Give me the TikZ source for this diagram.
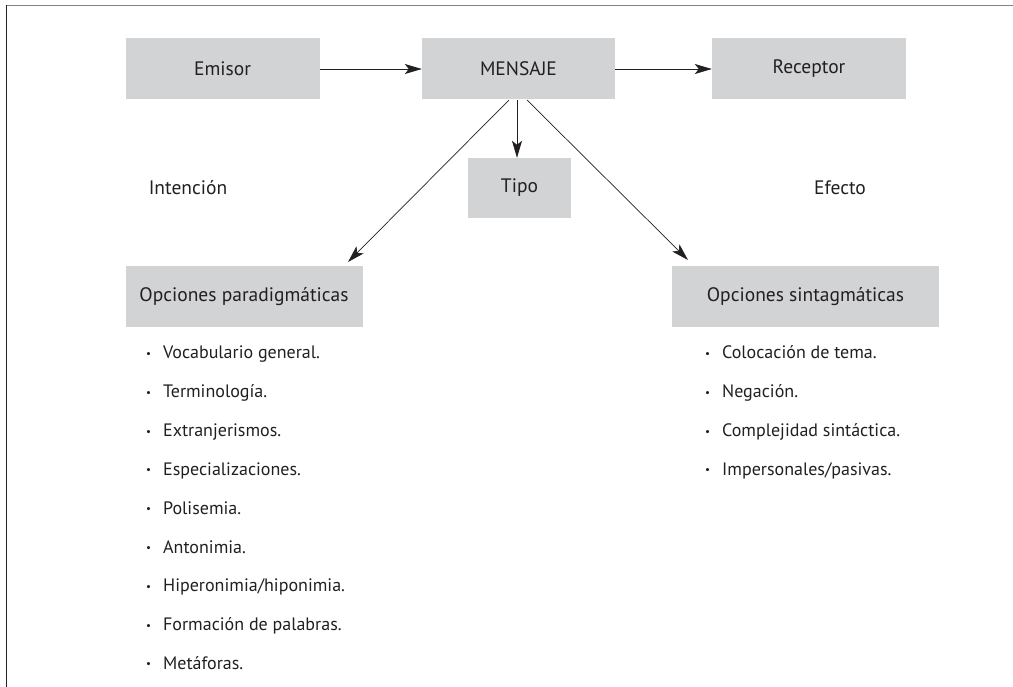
\documentclass[tikz,border=0pt]{standalone}
\usepackage{fontspec}
\setmainfont{PT Sans}
\usetikzlibrary{arrows.meta}
\definecolor{boxgray}{RGB}{209,211,212}
\definecolor{topline}{RGB}{130,130,130}
\definecolor{leftline}{RGB}{35,35,35}
\definecolor{txt}{RGB}{35,31,32}
\newcommand{\smallbul}{\raisebox{1.5pt}{\fontsize{11}{11}\selectfont\textbullet}}
\tikzset{
  box/.style={fill=boxgray, inner sep=0pt, font=\fontsize{19.5}{22}\selectfont, text=txt},
  lbl/.style={inner sep=0pt, font=\fontsize{19.5}{22}\selectfont, text=txt},
  item/.style={inner sep=0pt, anchor=base west, font=\fontsize{18}{20}\selectfont, text=txt},
  conn/.style={draw=txt, line width=0.7pt, -{Stealth[length=17pt, width=10pt, inset=4pt]}},
}
\begin{document}
\begin{tikzpicture}[x=1pt, y=-1pt]
\useasboundingbox (0,0) rectangle (1013,687);
% frame
\draw[topline, line width=1.5pt] (6,5.5) -- (1013,5.5);
\draw[leftline, line width=1.3pt] (6.3,5) -- (6.3,687);
% boxes
\node[box, minimum width=194pt, minimum height=61pt] (em) at (222.5,69) {Emisor};
\node[box, minimum width=193pt, minimum height=61pt] (me) at (518.5,69) {MENSAJE};
\node[box, minimum width=194pt, minimum height=61pt] (re) at (809,69) {Receptor};
\node[box, minimum width=103pt, minimum height=60pt] (ti) at (519.5,188) {Tipo};
\node[box, minimum width=237pt, minimum height=61pt] (op) at (244,296.5) {Opciones paradigmáticas};
\node[box, minimum width=267pt, minimum height=61pt] (os) at (805.5,296.5) {Opciones sintagmáticas};
% labels
\node[lbl] (in) at (188,188) {Intención};
\node[lbl] (ef) at (840,188) {Efecto};
% anchors for diagonal arrows
\coordinate (mL) at (509,100);
\coordinate (mC) at (517,100);
\coordinate (mR) at (527,100);
\coordinate (opT) at (348,262);
\coordinate (osT) at (688,260);
% connectors
\draw[conn] (em.east) -- (me.west);
\draw[conn] (me.east) -- (re.west);
\draw[conn] (mC) -- (mC |- ti.north);
\draw[conn] (mL) -- (opT);
\draw[conn] (mR) -- (osT);
% left list
\foreach \t [count=\i from 0] in {Vocabulario general., Terminología., Extranjerismos., Especializaciones., Polisemia., Antonimia., Hiperonimia/hiponimia., Formación de palabras., Metáforas.}{
  \node[item] (l\i) at (146,359+38.8*\i) {\smallbul\hspace{12pt}\t};
}
% right list
\foreach \t [count=\i from 0] in {Colocación de tema., Negación., Complejidad sintáctica., Impersonales/pasivas.}{
  \node[item] (r\i) at (705,359+38.8*\i) {\smallbul\hspace{12pt}\t};
}
\end{tikzpicture}
\end{document}
